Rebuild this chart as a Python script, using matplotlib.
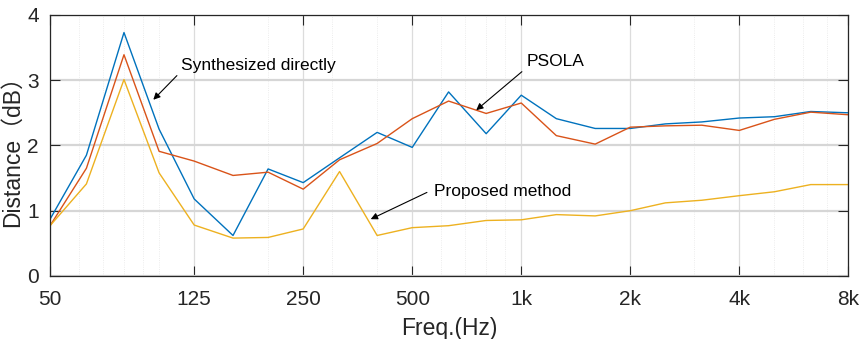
import matplotlib
matplotlib.use('Agg')
import matplotlib.pyplot as plt
from matplotlib.ticker import FixedLocator, LogLocator, NullFormatter

plt.rcParams['font.family'] = ['Liberation Sans', 'Noto Sans CJK SC', 'DejaVu Sans']

# 1/3 倍频程中心频率
freqs = [50, 63, 80, 100, 125, 160, 200, 250, 315, 400, 500, 630, 800,
         1000, 1250, 1600, 2000, 2500, 3150, 4000, 5000, 6300, 8000]

direct = [0.87, 1.85, 3.73, 2.25, 1.18, 0.62, 1.64, 1.43, 1.81, 2.20, 1.97, 2.82,
          2.18, 2.77, 2.41, 2.26, 2.26, 2.33, 2.36, 2.42, 2.44, 2.52, 2.50]
psola = [0.77, 1.65, 3.39, 1.91, 1.76, 1.54, 1.59, 1.33, 1.78, 2.03, 2.41, 2.68,
         2.49, 2.65, 2.15, 2.02, 2.28, 2.30, 2.31, 2.23, 2.40, 2.51, 2.47]
proposed = [0.77, 1.41, 3.01, 1.58, 0.78, 0.58, 0.59, 0.72, 1.60, 0.62, 0.74, 0.77,
            0.85, 0.86, 0.94, 0.92, 1.00, 1.12, 1.16, 1.23, 1.29, 1.40, 1.40]

xtick_vals = [50, 125, 250, 500, 1000, 2000, 4000, 8000]
xtick_labels = ['50', '125', '250', '500', '1k', '2k', '4k', '8k']

fig = plt.figure(figsize=(8.63, 3.39), dpi=100)
ax = fig.add_axes([0.058, 0.186, 0.925, 0.770])

ax.plot(freqs, direct, color='#0072BD', lw=1.0)
ax.plot(freqs, psola, color='#D95319', lw=1.0)
ax.plot(freqs, proposed, color='#EDB120', lw=1.0)

ax.set_xscale('log')
ax.set_xlim(50, 8000)
ax.set_ylim(0, 4)
ax.xaxis.set_major_locator(FixedLocator(xtick_vals))
ax.set_xticklabels(xtick_labels)
ax.xaxis.set_minor_locator(LogLocator(base=10, subs=range(1, 10), numticks=20))
ax.xaxis.set_minor_formatter(NullFormatter())
ax.set_yticks([0, 1, 2, 3, 4])

# 网格
ax.grid(True, which='major', axis='x', color='#dcdcdc', lw=0.9)
ax.grid(True, which='major', axis='y', color='#d6d6d6', lw=1.6)
ax.grid(True, which='minor', axis='x', color='#e6e6e6', lw=0.6, linestyle=':')
ax.set_axisbelow(True)

ax.tick_params(which='major', direction='in', length=7, width=0.8, top=True, right=True,
               labelsize=15, colors='#262626')
ax.tick_params(axis='x', which='major', pad=10)
ax.tick_params(axis='y', which='major', pad=8)
ax.tick_params(which='minor', length=0)
for s in ax.spines.values():
    s.set_color('#262626')
    s.set_linewidth(0.9)

ax.set_xlabel('Freq.(Hz)', fontsize=16.5, color='#262626', labelpad=6)
ax.set_ylabel('Distance（dB）', fontsize=16.5, color='#262626', labelpad=2)

# 标注
arrow = dict(arrowstyle='-|>', color='k', lw=0.8, mutation_scale=10, shrinkA=0, shrinkB=0)
ax.annotate('', xy=(96.4, 2.70), xytext=(112, 3.07), arrowprops=arrow)
ax.text(115, 3.22, 'Synthesized directly', fontsize=12.5, va='center', ha='left')
ax.annotate('', xy=(751, 2.54), xytext=(1004, 3.13), arrowprops=arrow)
ax.text(1038, 3.28, 'PSOLA', fontsize=12.5, va='center', ha='left')
ax.annotate('', xy=(384, 0.87), xytext=(549, 1.28), arrowprops=arrow)
ax.text(575, 1.29, 'Proposed method', fontsize=12.5, va='center', ha='left')

fig.savefig('out.png', dpi=100)
